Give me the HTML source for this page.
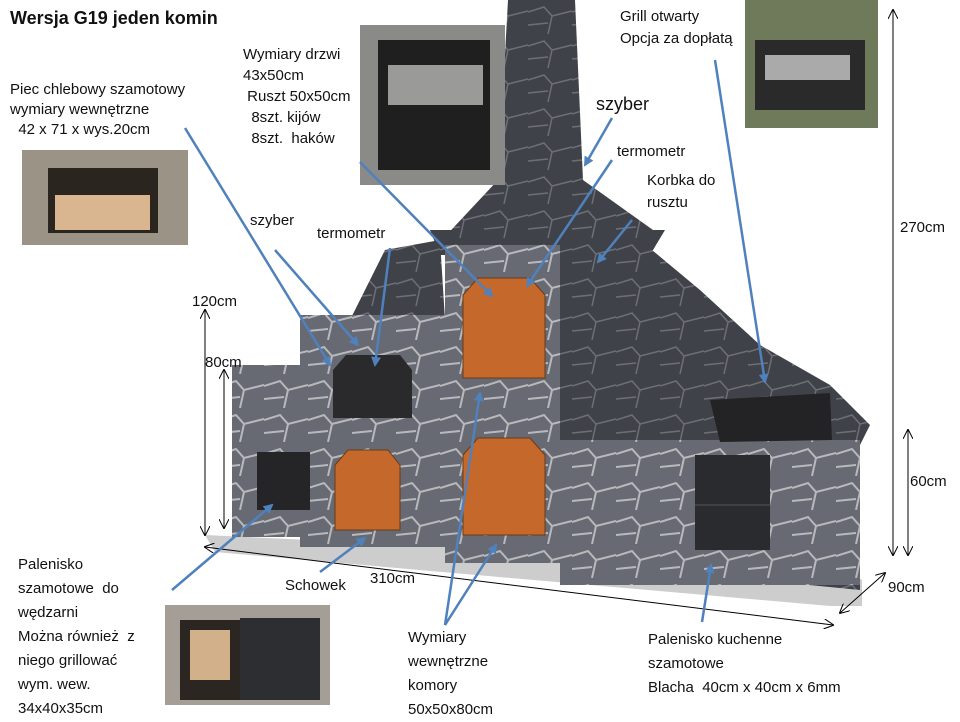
<!DOCTYPE html>
<html><head><meta charset="utf-8"><style>
body{margin:0;width:960px;height:720px;background:#fff;overflow:hidden;position:relative;font-family:"Liberation Sans","Noto Sans CJK SC",sans-serif;}
.t{position:absolute;font-size:15px;color:#111;line-height:24px;white-space:nowrap}
</style></head><body>
<svg width="960" height="720" style="position:absolute;left:0;top:0">
<defs>
<pattern id="st" width="44" height="34" patternUnits="userSpaceOnUse">
<rect width="44" height="34" fill="#676a72"/>
<path d="M0 12 L16 7 L24 16 L44 11 M24 16 L20 34 M0 25 L20 23" stroke="#b8b9bc" stroke-width="2" fill="none"/>
</pattern>
<pattern id="dk" width="44" height="34" patternUnits="userSpaceOnUse">
<rect width="44" height="34" fill="#404249"/>
<path d="M0 12 L16 7 L24 16 L44 11 M24 16 L20 34 M0 25 L20 23" stroke="#6d6f75" stroke-width="1.5" fill="none"/>
</pattern>
<marker id="ar" markerWidth="10" markerHeight="10" refX="8" refY="5" orient="auto" markerUnits="userSpaceOnUse"><path d="M0 0 L10 5 L0 10 z" fill="#4f81bd"/></marker>
<marker id="bk" markerWidth="10" markerHeight="10" refX="9" refY="5" orient="auto-start-reverse" markerUnits="userSpaceOnUse"><path d="M0 0 L10 5 L0 10" fill="none" stroke="#000"/></marker>
</defs>
<!-- base -->
<polygon points="205,535 840,565 862,580 862,606 830,606 215,552" fill="#cdcdcd"/>
<!-- right sloping -->
<polygon points="555,245 640,240 700,290 760,345 830,385 870,425 860,445 860,590 555,560" fill="url(#dk)"/>
<rect x="560" y="440" width="300" height="145" fill="url(#st)"/>
<!-- chimney -->
<polygon points="430,230 665,230 650,255 440,255" fill="url(#dk)"/>
<polygon points="508,0 575,0 583,180 660,235 440,242 498,180" fill="url(#dk)"/>
<polygon points="385,250 440,240 445,320 350,320" fill="url(#dk)"/>
<!-- left blocks -->
<rect x="232" y="365" width="70" height="172" fill="url(#st)"/>
<rect x="300" y="315" width="150" height="232" fill="url(#st)"/>
<rect x="445" y="245" width="115" height="318" fill="url(#st)"/>
<!-- doors -->
<path d="M463 295 L478 278 L530 278 L545 295 L545 378 L463 378 z" fill="#c4692b" stroke="#6b3a16"/>
<path d="M463 455 L478 438 L530 438 L545 455 L545 535 L463 535 z" fill="#c4692b" stroke="#6b3a16"/>
<path d="M335 465 L348 450 L388 450 L400 465 L400 530 L335 530 z" fill="#c4692b" stroke="#6b3a16"/>
<path d="M333 370 L346 355 L400 355 L412 370 L412 418 L333 418 z" fill="#2a2a2c"/>
<rect x="257" y="452" width="53" height="58" fill="#252527"/>
<rect x="695" y="455" width="75" height="95" fill="#2a2b2e"/>
<line x1="695" y1="505" x2="770" y2="505" stroke="#555"/>
<polygon points="710,400 830,393 832,440 720,442" fill="#232325"/>
<!-- photos -->
<rect x="22" y="150" width="166" height="95" fill="#9b9486"/>
<rect x="48" y="168" width="110" height="65" fill="#2b2520"/><rect x="55" y="195" width="95" height="35" fill="#d9b590"/>
<rect x="360" y="25" width="145" height="160" fill="#8a8a88"/>
<rect x="378" y="40" width="112" height="130" fill="#1f1f20"/><rect x="388" y="65" width="95" height="40" fill="#9a9a98"/>
<rect x="745" y="0" width="133" height="128" fill="#6f7a5a"/>
<rect x="755" y="40" width="110" height="70" fill="#2a2a2a"/><rect x="765" y="55" width="85" height="25" fill="#aaa"/>
<rect x="165" y="605" width="165" height="100" fill="#a59e96"/>
<rect x="180" y="620" width="60" height="80" fill="#2b2622"/><rect x="190" y="630" width="40" height="50" fill="#d2b08a"/>
<rect x="240" y="618" width="80" height="82" fill="#2d2e31"/>
<!-- dimension lines -->
<g stroke="#000" stroke-width="1" marker-end="url(#bk)" marker-start="url(#bk)">
<line x1="205" y1="310" x2="205" y2="535"/>
<line x1="224" y1="370" x2="224" y2="528"/>
<line x1="893" y1="10" x2="893" y2="555"/>
<line x1="908" y1="430" x2="908" y2="555"/>
<line x1="205" y1="547" x2="833" y2="625"/>
<line x1="885" y1="573" x2="840" y2="613"/>
</g>
<!-- blue arrows -->
<g stroke="#4f81bd" stroke-width="2.5" marker-end="url(#ar)">
<line x1="185" y1="128" x2="330" y2="365"/>
<line x1="275" y1="250" x2="358" y2="345"/>
<line x1="390" y1="248" x2="375" y2="365"/>
<line x1="360" y1="162" x2="492" y2="296"/>
<line x1="612" y1="160" x2="527" y2="286"/>
<line x1="612" y1="118" x2="585" y2="165"/>
<line x1="632" y1="220" x2="598" y2="262"/>
<line x1="715" y1="60" x2="765" y2="382"/>
<line x1="172" y1="590" x2="272" y2="505"/>
<line x1="320" y1="572" x2="365" y2="538"/>
<line x1="445" y1="625" x2="480" y2="393"/>
<line x1="445" y1="625" x2="496" y2="545"/>
<line x1="702" y1="622" x2="711" y2="565"/>
</g>
</svg>
<div class="t" style="left:10px;top:6px;font-size:18px;font-weight:bold">Wersja G19 jeden komin</div>
<div class="t" style="left:10px;top:80px;line-height:20px">Piec chlebowy szamotowy<br>wymiary wewnętrzne<br>&nbsp;&nbsp;42 x 71 x wys.20cm</div>
<div class="t" style="left:243px;top:44px;line-height:21px">Wymiary drzwi<br>43x50cm<br>&nbsp;Ruszt 50x50cm<br>&nbsp;&nbsp;8szt. kijów<br>&nbsp;&nbsp;8szt.&nbsp; haków</div>
<div class="t" style="left:596px;top:92px;font-size:18px">szyber</div>
<div class="t" style="left:617px;top:140px">termometr</div>
<div class="t" style="left:647px;top:170px;line-height:22px">Korbka do<br>rusztu</div>
<div class="t" style="left:620px;top:6px;line-height:22px">Grill otwarty<br>Opcja za dopłatą</div>
<div class="t" style="left:900px;top:216px">270cm</div>
<div class="t" style="left:192px;top:290px">120cm</div>
<div class="t" style="left:205px;top:351px">80cm</div>
<div class="t" style="left:910px;top:470px">60cm</div>
<div class="t" style="left:888px;top:576px">90cm</div>
<div class="t" style="left:370px;top:567px">310cm</div>
<div class="t" style="left:285px;top:574px">Schowek</div>
<div class="t" style="left:250px;top:209px">szyber</div>
<div class="t" style="left:317px;top:222px">termometr</div>
<div class="t" style="left:18px;top:553px">Palenisko<br>szamotowe&nbsp; do<br>wędzarni<br>Można również&nbsp; z<br>niego grillować<br>wym. wew.<br>34x40x35cm</div>
<div class="t" style="left:408px;top:626px">Wymiary<br>wewnętrzne<br>komory<br>50x50x80cm</div>
<div class="t" style="left:648px;top:628px">Palenisko kuchenne<br>szamotowe<br>Blacha&nbsp; 40cm x 40cm x 6mm</div>
</body></html>
